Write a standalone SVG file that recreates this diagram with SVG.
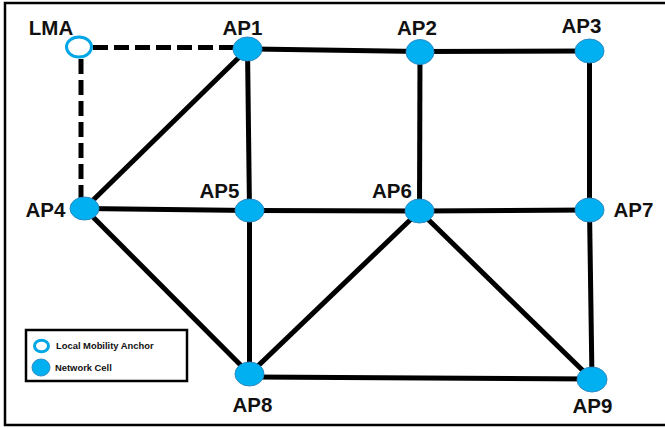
<svg xmlns="http://www.w3.org/2000/svg" width="665" height="428" viewBox="0 0 665 428">
<style>
.edge{stroke:#000;stroke-width:5;fill:none}
.dash{stroke:#000;stroke-width:5;fill:none;stroke-dasharray:15 6}
.cell{fill:#00B0F0;stroke:#2B8AC4;stroke-width:1}
.lma{fill:#fff;stroke:#00A6E6;stroke-width:3}
.lbl{font-family:"Liberation Sans",Arial,sans-serif;font-weight:bold;font-size:20.5px;fill:#111;text-anchor:middle}
.leg{font-family:"Liberation Sans",Arial,sans-serif;font-weight:bold;font-size:9.4px;fill:#111}
</style>
<rect width="665" height="428" fill="#fff"/>
<path d="M665 3 H5 V425 H665" fill="none" stroke="#000" stroke-width="2.5"/>
<g id="connectors">
<line class="dash" x1="93" y1="47.5" x2="234" y2="47.5"/>
<line class="dash" x1="81" y1="59" x2="81" y2="198"/>
<line class="edge" x1="247.5" y1="49" x2="420" y2="51.5"/>
<line class="edge" x1="420" y1="51.5" x2="589.5" y2="51"/>
<line class="edge" x1="247.5" y1="49" x2="84.5" y2="208.5"/>
<line class="edge" x1="247.5" y1="49" x2="249.5" y2="210.5"/>
<line class="edge" x1="420" y1="51.5" x2="419.5" y2="211"/>
<line class="edge" x1="589.5" y1="51" x2="589.5" y2="210"/>
<line class="edge" x1="84.5" y1="208.5" x2="249.5" y2="210.5"/>
<line class="edge" x1="249.5" y1="210.5" x2="419.5" y2="211"/>
<line class="edge" x1="419.5" y1="211" x2="589.5" y2="210"/>
<line class="edge" x1="84.5" y1="208.5" x2="249.5" y2="374"/>
<line class="edge" x1="249.5" y1="210.5" x2="249.5" y2="374"/>
<line class="edge" x1="419.5" y1="211" x2="249.5" y2="374"/>
<line class="edge" x1="419.5" y1="211" x2="592" y2="379.5"/>
<line class="edge" x1="589.5" y1="210" x2="592" y2="379.5"/>
<line class="edge" x1="249.5" y1="377" x2="592" y2="379"/>
</g>
<g id="LMA"><ellipse class="lma" cx="79" cy="47" rx="12.5" ry="10"/><text class="lbl" x="51" y="35">LMA</text></g>
<g id="AP1"><ellipse class="cell" cx="247.5" cy="49" rx="14.5" ry="12"/><text class="lbl" x="242.5" y="35">AP1</text></g>
<g id="AP2"><ellipse class="cell" cx="420" cy="52" rx="14" ry="12.5"/><text class="lbl" x="417" y="35">AP2</text></g>
<g id="AP3"><ellipse class="cell" cx="589.5" cy="51" rx="14.5" ry="12"/><text class="lbl" x="581.5" y="33">AP3</text></g>
<g id="AP4"><ellipse class="cell" cx="84.5" cy="208.5" rx="14.5" ry="11.5"/><text class="lbl" x="45.5" y="217">AP4</text></g>
<g id="AP5"><ellipse class="cell" cx="249.5" cy="210.5" rx="14.5" ry="11.5"/><text class="lbl" x="219.5" y="198">AP5</text></g>
<g id="AP6"><ellipse class="cell" cx="419.5" cy="211" rx="14.5" ry="12"/><text class="lbl" x="392" y="198">AP6</text></g>
<g id="AP7"><ellipse class="cell" cx="589.5" cy="210" rx="14.5" ry="12"/><text class="lbl" x="633.5" y="217">AP7</text></g>
<g id="AP8"><ellipse class="cell" cx="249.5" cy="374" rx="14.5" ry="12"/><text class="lbl" x="252.5" y="412">AP8</text></g>
<g id="AP9"><ellipse class="cell" cx="592" cy="379.5" rx="15" ry="12.5"/><text class="lbl" x="592.5" y="413">AP9</text></g>
<g id="legend">
<rect x="26" y="330" width="161" height="51" fill="#fff" stroke="#000" stroke-width="2.5"/>
<ellipse class="lma" cx="41.5" cy="346" rx="7" ry="5.8"/>
<text class="leg" x="56" y="349">Local Mobility Anchor</text>
<ellipse class="cell" cx="41" cy="367.5" rx="9" ry="8.5"/>
<text class="leg" x="55" y="371">Network Cell</text>
</g>
</svg>
